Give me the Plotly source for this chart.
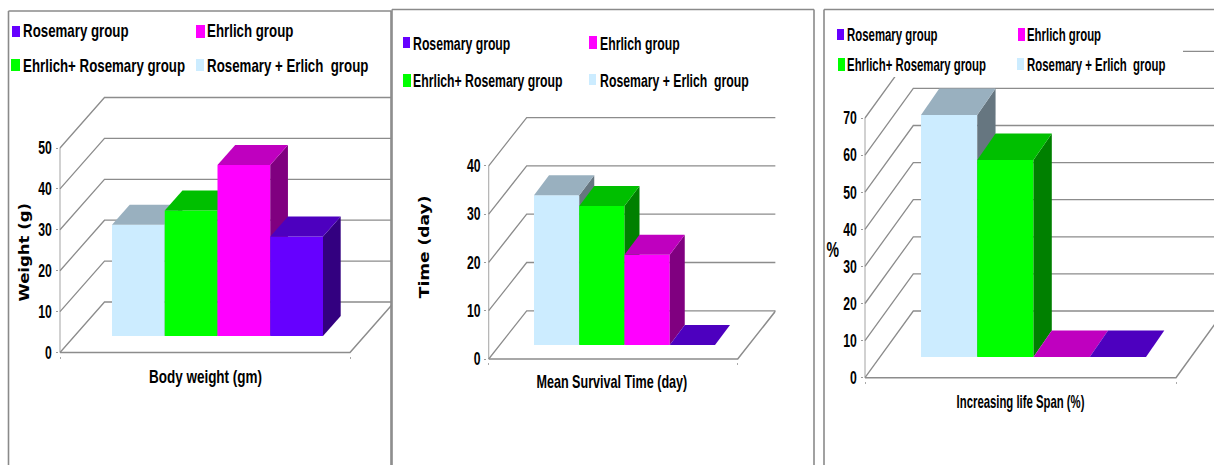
import json
import plotly.graph_objects as go

# ---- data ----
categories = ["Rosemary + Erlich  group", "Ehrlich+ Rosemary group", "Ehrlich group", "Rosemary group"]
body_weight = [27.2, 30.7, 41.8, 24.3]
survival_time = [31.0, 28.8, 18.7, 0.0]
life_span = [65.2, 53.1, 0.0, 0.0]
weight_ticks = [0, 10, 20, 30, 40, 50]
time_ticks = [0, 10, 20, 30, 40]
span_ticks = [0, 10, 20, 30, 40, 50, 60, 70]

# ---- style ----
W, H = 1214, 465
FRONT = ["#CCECFF", "#00FF00", "#FF00FF", "#6600FF"]
TOP = ["#99B0BF", "#00BF00", "#BF00BF", "#4D00BF"]
SIDE = ["#667680", "#008000", "#800080", "#330080"]
GRID = "#8C8C8C"
SANS = "Liberation Sans, Arial, sans-serif"

panels = [
    dict(values=body_weight, ticks=weight_ticks, x0=60, xr=391, y0=352.5, ytop=90, scale=4.09,
         floor_w=290, wall_dx=44.5, wall_dy=50.5, bar_x=52, bar_w=52.75, base=16.5, bar_dx=17.7, bar_dy=20,
         xtitle="Body weight (gm)", xt=(205, 377), xsq=0.75, ytitle="Weight (g)", yt=(24, 252),
         yfont=("DejaVu Sans", 14), ysq=1.18, frame=(8.5, 11, 391),
         leg=[(12, 20, 26, 37, 23, 31), (196, 205, 25, 38, 207, 31), (11, 20, 59, 71, 23, 65), (196, 204, 59, 71, 207, 65)],
         legsize=19, legsq=0.70),
    dict(values=survival_time, ticks=time_ticks, x0=488.7, xr=775.5, y0=359, ytop=110, scale=4.83,
         floor_w=249, wall_dx=38, wall_dy=48.2, bar_x=45.3, bar_w=45.25, base=14, bar_dx=15, bar_dy=20,
         xtitle="Mean Survival Time (day)", xt=(611.7, 382), xsq=0.70, ytitle="Time (day)", yt=(424, 247),
         yfont=("DejaVu Sans", 14), ysq=1.22, frame=(392, 9.5, 814),
         leg=[(403, 410, 37, 48, 413, 43), (589, 597, 36, 49, 600, 43), (403, 411, 74, 87, 413, 80), (589, 596, 74, 85, 600, 80)],
         legsize=19, legsq=0.645),
    dict(values=life_span, ticks=span_ticks, x0=865, xr=1214, y0=377.7, ytop=40, scale=3.71,
         floor_w=311, wall_dx=48.3, wall_dy=66.7, bar_x=56, bar_w=56.25, base=20.7, bar_dx=18.3, bar_dy=26.5,
         xtitle="Increasing life Span (%)", xt=(1020, 402), xsq=0.63, ytitle="%", yt=(833, 249),
         yfont=(SANS, 22), ysq=0.64, frame=(824, 9.5, None),
         leg=[(837, 844, 29, 40, 847, 34), (1018, 1025, 28, 41, 1027, 34), (838, 845, 58, 71, 847, 64), (1017, 1024, 58, 70, 1027, 64)],
         legsize=19, legsq=0.60),
]

fig = go.Figure()
shapes, annotations, squeeze = [], [], []
layout = {}


def poly(xs, ys, color, xa, ya, name):
    fig.add_trace(go.Scatter(x=xs, y=ys, mode="lines", fill="toself", fillcolor=color,
                             line=dict(width=0, color=color), xaxis=xa, yaxis=ya, name=name,
                             showlegend=False, hoverinfo="name"))


def line(xs, ys, xa, ya, width=1.3, color=GRID):
    fig.add_trace(go.Scatter(x=xs, y=ys, mode="lines", line=dict(width=width, color=color),
                             xaxis=xa, yaxis=ya, showlegend=False, hoverinfo="skip"))


for n, p in enumerate(panels, start=1):
    xa, ya = f"x{n}", f"y{n}"
    s = p["scale"]
    padx, pady = 1.5, 3
    layout[f"xaxis{n}"] = dict(
        domain=[(p["x0"] - padx) / W, p["xr"] / W], range=[-padx, p["xr"] - p["x0"]], automargin=False,
        anchor=ya, showgrid=False, zeroline=False, showline=False,
        tickvals=[0, p["floor_w"]], ticktext=["", ""], ticks="outside", ticklen=2, tickcolor="#aaaaaa", fixedrange=True)
    layout[f"yaxis{n}"] = dict(
        domain=[1 - (p["y0"] + pady) / H, 1 - p["ytop"] / H], range=[-pady / s, (p["y0"] - p["ytop"]) / s],
        anchor=xa, showgrid=False, zeroline=False, showline=False, automargin=False,
        tickvals=p["ticks"], ticks="outside", ticklen=2, tickcolor="#999999",
        tickfont=dict(family=SANS, size=18, color="#000000", weight="bold"), fixedrange=True)

    ymax = p["ticks"][-1]
    wdy = p["wall_dy"] / s
    wdx = p["wall_dx"]
    # walls, floor and gridlines of the oblique box
    line([0, 0], [0, ymax], xa, ya, 1.1, "#ABABAB")
    for t in p["ticks"]:
        line([0, wdx, wdx + p["floor_w"]], [t, t + wdy, t + wdy], xa, ya)
    line([0, p["floor_w"], p["floor_w"] + wdx], [0, 0, wdy], xa, ya, 1.5)

    # bars, painted left to right
    bdy = p["bar_dy"] / s
    bdx = p["bar_dx"]
    b = p["base"] / s
    for i, v in enumerate(p["values"]):
        l = p["bar_x"] + i * p["bar_w"]
        r = l + p["bar_w"]
        name = categories[i]
        if v > 0:
            poly([l, r, r, l, l], [b, b, b + v, b + v, b], FRONT[i], xa, ya, name)
            poly([r, r + bdx, r + bdx, r, r], [b, b + bdy, b + v + bdy, b + v, b], SIDE[i], xa, ya, name)
        poly([l, r, r + bdx, l + bdx, l], [b + v, b + v, b + v + bdy, b + v + bdy, b + v], TOP[i], xa, ya, name)

    # frame of the panel
    fx, fy, fr = p["frame"]
    fl = dict(color="#8A8A8A", width=1.6)
    if n == 3:
        shapes.append(dict(type="rect", xref="paper", yref="paper", x0=835 / W, x1=1183 / W,
                           y0=1 - 77 / H, y1=1 - 20 / H, fillcolor="white", line=dict(width=0), layer="above"))
    shapes.append(dict(type="line", xref="paper", yref="paper", x0=fx / W, x1=fx / W, y0=0, y1=1 - fy / H, line=fl))
    shapes.append(dict(type="line", xref="paper", yref="paper", x0=fx / W, x1=(fr or W) / W,
                       y0=1 - fy / H, y1=1 - fy / H, line=fl))
    if fr:
        shapes.append(dict(type="line", xref="paper", yref="paper", x0=fr / W, x1=fr / W, y0=0, y1=1 - fy / H, line=fl))

    # legend in two rows: Rosemary, Ehrlich / Ehrlich+Rosemary, Rosemary+Erlich
    for idx, (x1, x2, y1, y2, tx, ty) in zip([3, 2, 1, 0], p["leg"]):
        shapes.append(dict(type="rect", xref="paper", yref="paper", x0=x1 / W, x1=x2 / W,
                           y0=1 - y2 / H, y1=1 - y1 / H, fillcolor=FRONT[idx], line=dict(width=0), layer="above"))
        annotations.append(dict(text=categories[idx], xref="paper", yref="paper", x=(tx - 2) / W, y=1 - ty / H,
                                xanchor="left", yanchor="middle", showarrow=False,
                                font=dict(family=SANS, size=p["legsize"], color="#000000", weight="bold")))
        squeeze.append(p["legsq"])

    annotations.append(dict(text=p["xtitle"], xref="paper", yref="paper", x=p["xt"][0] / W, y=1 - p["xt"][1] / H,
                            xanchor="center", yanchor="middle", showarrow=False,
                            font=dict(family=SANS, size=18, color="#000000", weight="bold")))
    squeeze.append(p["xsq"])
    annotations.append(dict(text=p["ytitle"], xref="paper", yref="paper", x=p["yt"][0] / W, y=1 - p["yt"][1] / H,
                            xanchor="center", yanchor="middle", showarrow=False,
                            textangle=0 if p["ytitle"] == "%" else -90,
                            font=dict(family=p["yfont"][0], size=p["yfont"][1], color="#000000", weight="bold")))
    squeeze.append(p["ysq"])

fig.update_layout(width=W, height=H, margin=dict(l=0, r=0, t=0, b=0), paper_bgcolor="white",
                  plot_bgcolor="rgba(0,0,0,0)", showlegend=False, shapes=shapes, annotations=annotations, **layout)

# The reference text is a condensed face; none is installed, so the real text is narrowed in place.
post = """
document.body.style.margin='0';document.body.style.overflow='hidden';
var SQ=%s, TICK=%s;
function narrowAnn(t,f,left){
  if(t.getAttribute('data-nar'))return;
  var w=t.getComputedTextLength(); if(!w)return;
  var x=parseFloat(t.getAttribute('x')||0);
  var pivot=left?x-w/2:x;
  t.setAttribute('transform','translate('+pivot+',0) scale('+f+',1) translate('+(-pivot)+',0)');
  t.setAttribute('data-nar','1');
}
function narrowTick(t,f){
  if(t.getAttribute('data-nar'))return;
  var w=t.getComputedTextLength(); if(!w)return;
  t.setAttribute('textLength',w*f); t.setAttribute('lengthAdjust','spacingAndGlyphs');
  t.setAttribute('data-nar','1');
}
function applyAll(){
  var gd=document.querySelector('.plotly-graph-div');
  gd.querySelectorAll('.annotation').forEach(function(a){
    var i=+a.getAttribute('data-index'), t=a.querySelector('text');
    if(t)narrowAnn(t,SQ[i],gd.layout.annotations[i].xanchor==='left');
  });
  gd.querySelectorAll('.ytick text, .y2tick text, .y3tick text').forEach(function(t){narrowTick(t,TICK);});
}
applyAll(); setTimeout(applyAll,30); setTimeout(applyAll,200);
""" % (json.dumps(squeeze), json.dumps(0.68))

fig.write_html("out.html", config={"displayModeBar": False}, post_script=post)
